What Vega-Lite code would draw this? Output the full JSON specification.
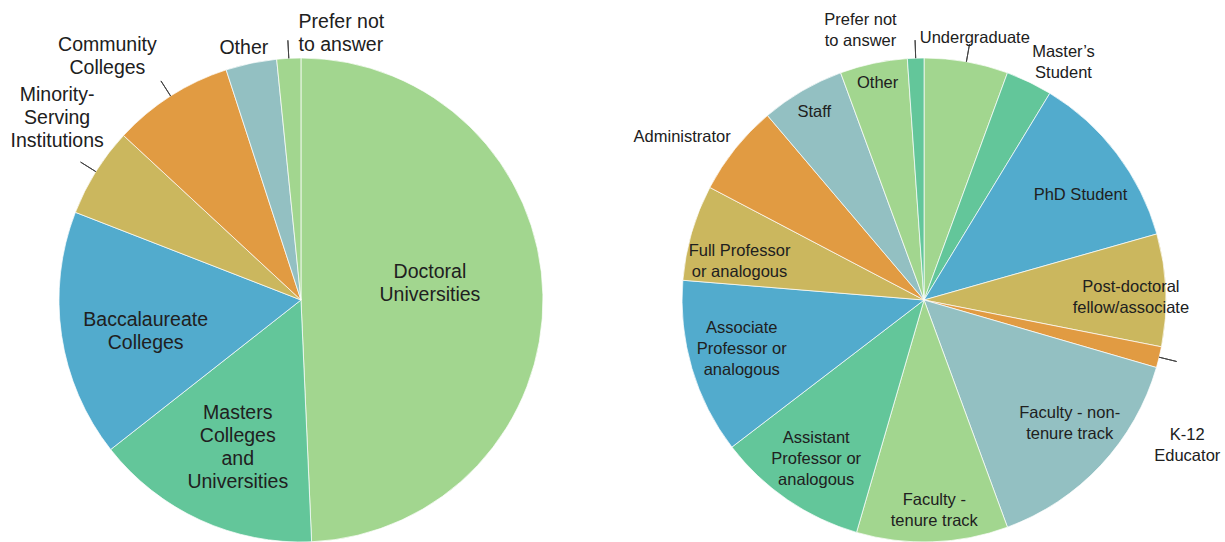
{
  "$schema": "https://vega.github.io/schema/vega-lite/v6.json",
  "width": 1225,
  "height": 484,
  "autosize": "none",
  "padding": {"left": 0, "right": 0, "top": 58, "bottom": 0},
  "background": "white",
  "config": {
    "view": {"stroke": null},
    "text": {"font": "Liberation Sans", "color": "#202020", "align": "center", "baseline": "middle", "lineBreak": "\n"}
  },
  "data": {
    "values": [
      {"pie": "Institution", "category": "Doctoral Universities", "label": "Doctoral\nUniversities", "pct": 49.3},
      {"pie": "Institution", "category": "Masters Colleges and Universities", "label": "Masters\nColleges\nand\nUniversities", "pct": 15.1},
      {"pie": "Institution", "category": "Baccalaureate Colleges", "label": "Baccalaureate\nColleges", "pct": 16.5},
      {"pie": "Institution", "category": "Minority-Serving Institutions", "label": "Minority-\nServing\nInstitutions", "pct": 6.0},
      {"pie": "Institution", "category": "Community Colleges", "label": "Community\nColleges", "pct": 8.1},
      {"pie": "Institution", "category": "Other", "label": "Other", "pct": 3.4},
      {"pie": "Institution", "category": "Prefer not to answer", "label": "Prefer not\nto answer", "pct": 1.6},
      {"pie": "Role", "category": "Undergraduate", "label": "Undergraduate", "pct": 5.6},
      {"pie": "Role", "category": "Master’s Student", "label": "Master’s\nStudent", "pct": 3.1},
      {"pie": "Role", "category": "PhD Student", "label": "PhD Student", "pct": 11.9},
      {"pie": "Role", "category": "Post-doctoral fellow/associate", "label": "Post-doctoral\nfellow/associate", "pct": 7.5},
      {"pie": "Role", "category": "K-12 Educator", "label": "K-12\nEducator", "pct": 1.4},
      {"pie": "Role", "category": "Faculty - non-tenure track", "label": "Faculty - non-\ntenure track", "pct": 14.9},
      {"pie": "Role", "category": "Faculty - tenure track", "label": "Faculty -\ntenure track", "pct": 10.1},
      {"pie": "Role", "category": "Assistant Professor or analogous", "label": "Assistant\nProfessor or\nanalogous", "pct": 10.1},
      {"pie": "Role", "category": "Associate Professor or analogous", "label": "Associate\nProfessor or\nanalogous", "pct": 11.7},
      {"pie": "Role", "category": "Full Professor or analogous", "label": "Full Professor\nor analogous", "pct": 6.4},
      {"pie": "Role", "category": "Administrator", "label": "Administrator", "pct": 6.1},
      {"pie": "Role", "category": "Staff", "label": "Staff", "pct": 5.6},
      {"pie": "Role", "category": "Other", "label": "Other", "pct": 4.5},
      {"pie": "Role", "category": "Prefer not to answer", "label": "Prefer not\nto answer", "pct": 1.1}
    ]
  },
  "transform": [
    {"window": [{"op": "row_number", "as": "idx"}], "groupby": ["pie"]},
    {"stack": "pct", "groupby": ["pie"], "sort": [{"field": "idx", "order": "ascending"}], "as": ["t0", "t1"]},
    {"calculate": "(datum.t0 + datum.t1) / 2", "as": "mid"},
    {"calculate": "(datum.idx - 1) % 6", "as": "ci"}
  ],
  "encoding": {
    "x": {"field": "pie", "type": "nominal", "scale": {"type": "point", "domain": ["Institution", "Role"], "padding": 0.483}, "axis": null}
  },
  "layer": [
    {
      "mark": {"type": "arc", "outerRadius": 242, "stroke": "white", "strokeWidth": 0.7},
      "encoding": {
        "theta": {"field": "t0", "type": "quantitative", "stack": null, "scale": {"domain": [0, 100]}},
        "theta2": {"field": "t1"},
        "color": {"field": "ci", "type": "ordinal", "scale": {"domain": [0, 1, 2, 3, 4, 5], "range": ["#a2d68f", "#63c69a", "#52abcd", "#cbb75e", "#e19b42", "#93c0c2"]}, "legend": null}
      }
    },
    {
      "transform": [{"filter": {"field": "category", "oneOf": ["Minority-Serving Institutions", "Community Colleges", "Prefer not to answer", "Undergraduate", "K-12 Educator"]}}],
      "mark": {"type": "arc", "innerRadius": 242, "outerRadius": 260, "fill": "transparent", "stroke": "#444444", "strokeWidth": 1},
      "encoding": {
        "theta": {"field": "mid", "type": "quantitative", "stack": null, "scale": {"domain": [0, 100]}},
        "theta2": {"field": "mid"}
      }
    },
    {
      "encoding": {
        "theta": {"field": "mid", "type": "quantitative", "stack": null, "scale": {"domain": [0, 100]}},
        "text": {"field": "label"}
      },
      "layer": [
        {"transform": [{"filter": "datum.pie === 'Institution' && datum.category === 'Doctoral Universities'"}], "mark": {"type": "text", "radius": 130, "dx": -1, "dy": -25, "fontSize": 19.5, "lineHeight": 23}},
        {"transform": [{"filter": "datum.pie === 'Institution' && datum.category === 'Masters Colleges and Universities'"}], "mark": {"type": "text", "radius": 161, "dx": 4, "dy": -33, "fontSize": 19.5, "lineHeight": 23}},
        {"transform": [{"filter": "datum.pie === 'Institution' && datum.category === 'Baccalaureate Colleges'"}], "mark": {"type": "text", "radius": 158, "dx": 1, "dy": -3, "fontSize": 19.5, "lineHeight": 23}},
        {"transform": [{"filter": "datum.pie === 'Institution' && datum.category === 'Minority-Serving Institutions'"}], "mark": {"type": "text", "radius": 290, "dx": 2, "dy": -51, "fontSize": 19.5, "lineHeight": 23}},
        {"transform": [{"filter": "datum.pie === 'Institution' && datum.category === 'Community Colleges'"}], "mark": {"type": "text", "radius": 300, "dx": -32, "dy": -2, "fontSize": 19.5, "lineHeight": 23}},
        {"transform": [{"filter": "datum.pie === 'Institution' && datum.category === 'Other'"}], "mark": {"type": "text", "radius": 258, "dx": -4, "dy": 0, "fontSize": 19.5, "lineHeight": 23}},
        {"transform": [{"filter": "datum.pie === 'Institution' && datum.category === 'Prefer not to answer'"}], "mark": {"type": "text", "radius": 266, "dx": 11, "dy": -12, "align": "left", "fontSize": 19.5, "lineHeight": 23}},
        {"transform": [{"filter": "datum.pie === 'Role' && datum.category === 'Undergraduate'"}], "mark": {"type": "text", "radius": 267, "dx": 4, "dy": 1, "fontSize": 16.5, "lineHeight": 21}},
        {"transform": [{"filter": "datum.pie === 'Role' && datum.category === 'Master’s Student'"}], "mark": {"type": "text", "radius": 275, "dx": 20, "dy": 0, "fontSize": 16.5, "lineHeight": 21}},
        {"transform": [{"filter": "datum.pie === 'Role' && datum.category === 'PhD Student'"}], "mark": {"type": "text", "radius": 189, "dx": 6, "dy": 9, "fontSize": 16.5, "lineHeight": 21}},
        {"transform": [{"filter": "datum.pie === 'Role' && datum.category === 'Post-doctoral fellow/associate'"}], "mark": {"type": "text", "radius": 207, "dx": 0, "dy": -5, "fontSize": 16.5, "lineHeight": 21}},
        {"transform": [{"filter": "datum.pie === 'Role' && datum.category === 'K-12 Educator'"}], "mark": {"type": "text", "radius": 309, "dx": -37, "dy": 62, "fontSize": 16.5, "lineHeight": 21}},
        {"transform": [{"filter": "datum.pie === 'Role' && datum.category === 'Faculty - non-tenure track'"}], "mark": {"type": "text", "radius": 191, "dx": 6, "dy": -17, "fontSize": 16.5, "lineHeight": 21}},
        {"transform": [{"filter": "datum.pie === 'Role' && datum.category === 'Faculty - tenure track'"}], "mark": {"type": "text", "radius": 210, "dx": 3, "dy": -10, "fontSize": 16.5, "lineHeight": 21}},
        {"transform": [{"filter": "datum.pie === 'Role' && datum.category === 'Assistant Professor or analogous'"}], "mark": {"type": "text", "radius": 191, "dx": 0, "dy": -20, "fontSize": 16.5, "lineHeight": 21}},
        {"transform": [{"filter": "datum.pie === 'Role' && datum.category === 'Associate Professor or analogous'"}], "mark": {"type": "text", "radius": 190, "dx": 0, "dy": -26, "fontSize": 16.5, "lineHeight": 21}},
        {"transform": [{"filter": "datum.pie === 'Role' && datum.category === 'Full Professor or analogous'"}], "mark": {"type": "text", "radius": 189, "dx": -3, "dy": 4, "fontSize": 16.5, "lineHeight": 21}},
        {"transform": [{"filter": "datum.pie === 'Role' && datum.category === 'Administrator'"}], "mark": {"type": "text", "radius": 292, "dx": -14, "dy": 20, "fontSize": 16.5, "lineHeight": 21}},
        {"transform": [{"filter": "datum.pie === 'Role' && datum.category === 'Staff'"}], "mark": {"type": "text", "radius": 218, "dx": 0, "dy": 0, "fontSize": 16.5, "lineHeight": 21}},
        {"transform": [{"filter": "datum.pie === 'Role' && datum.category === 'Other'"}], "mark": {"type": "text", "radius": 222, "dx": 0, "dy": 0, "fontSize": 16.5, "lineHeight": 21}},
        {"transform": [{"filter": "datum.pie === 'Role' && datum.category === 'Prefer not to answer'"}], "mark": {"type": "text", "radius": 277, "dx": -54, "dy": -3, "fontSize": 16.5, "lineHeight": 21}}
      ]
    }
  ]
}
